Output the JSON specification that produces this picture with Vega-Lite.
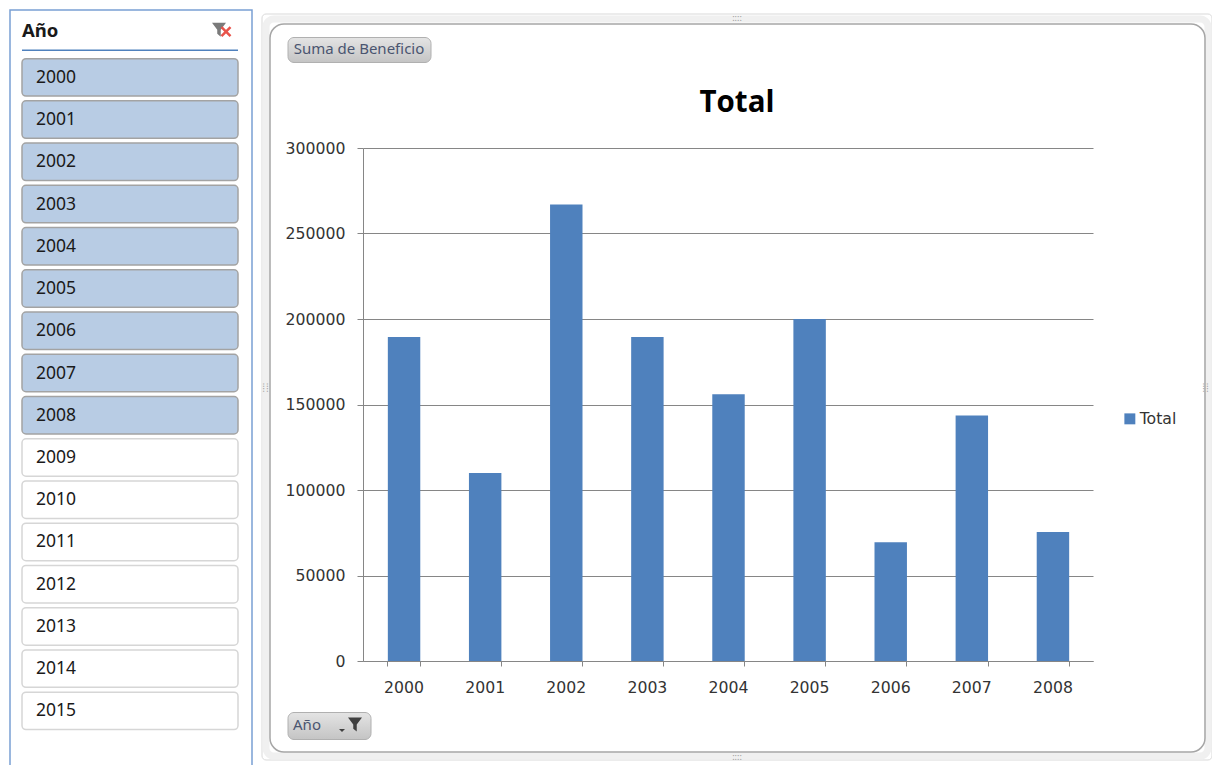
{
"$schema":"https://vega.github.io/schema/vega-lite/v6.json",
"padding":{"left":9,"top":9,"right":0,"bottom":0},
"background":"#ffffff",
"spacing":10,
"bounds":"flush",
"config":{"font":"Noto Sans"},
"datasets":{
"slicer":[{"year":"2000","sel":true},{"year":"2001","sel":true},{"year":"2002","sel":true},{"year":"2003","sel":true},{"year":"2004","sel":true},{"year":"2005","sel":true},{"year":"2006","sel":true},{"year":"2007","sel":true},{"year":"2008","sel":true},{"year":"2009","sel":false},{"year":"2010","sel":false},{"year":"2011","sel":false},{"year":"2012","sel":false},{"year":"2013","sel":false},{"year":"2014","sel":false},{"year":"2015","sel":false}],
"head":[{"year":"Año"}],
"profit":[{"year":"2000","beneficio":189500,"serie":"Total"},{"year":"2001","beneficio":110000,"serie":"Total"},{"year":"2002","beneficio":267000,"serie":"Total"},{"year":"2003","beneficio":189500,"serie":"Total"},{"year":"2004","beneficio":156000,"serie":"Total"},{"year":"2005","beneficio":200000,"serie":"Total"},{"year":"2006","beneficio":69500,"serie":"Total"},{"year":"2007","beneficio":143500,"serie":"Total"},{"year":"2008","beneficio":75500,"serie":"Total"}],
"b1":[{"label":"Suma de Beneficio"}],
"b2":[{"label":"Año"}],
"h":[{"label":"::::"}]
},
"hconcat":[
{
"width":242,"height":756,
"view":{"stroke":"#7aa0d4","strokeWidth":1.5,"fill":"#ffffff"},
"encoding":{"y":{"field":"year","type":"nominal","axis":null,"sort":null,"scale":{"domain":["Año","2000","2001","2002","2003","2004","2005","2006","2007","2008","2009","2010","2011","2012","2013","2014","2015"],"range":[6.4,719.6],"paddingInner":0.113,"paddingOuter":0}}},
"layer":[
{"data":{"name":"slicer"},"mark":{"type":"rect","width":216,"xOffset":-122,"cornerRadius":4,"strokeWidth":1.5},
"encoding":{"fill":{"condition":{"test":"datum.sel","value":"#b8cce4"},"value":"#ffffff"},"stroke":{"condition":{"test":"datum.sel","value":"#a3a3a3"},"value":"#d6d6d6"}}},
{"data":{"name":"slicer"},"mark":{"type":"text","align":"left","xOffset":-95,"yOffset":0.5,"fontSize":17.5,"color":"#1a1a1a"},"encoding":{"text":{"field":"year"}}},
{"data":{"name":"head"},"mark":{"type":"text","align":"left","xOffset":-109,"yOffset":-4,"fontSize":18.5,"fontWeight":"bold","color":"#1a1a1a"},"encoding":{"text":{"field":"year"}}},
{"data":{"name":"head"},"mark":{"type":"rect","width":216,"height":1.5,"xOffset":-122,"yOffset":15,"fill":"#4f81bd"}},
{"data":{"name":"head"},"mark":{"type":"point","shape":"M-1,-1L1,-1L0.25,0L0.25,1L-0.25,0.6L-0.25,0Z","size":196,"filled":true,"xOffset":88,"yOffset":-5.5,"color":"#7a7a7a","opacity":1}},
{"data":{"name":"head"},"mark":{"type":"point","shape":"M-1,-1L1,1M-1,1L1,-1","size":81,"filled":false,"xOffset":95,"yOffset":-3.5,"color":"#e8534a","strokeWidth":2.5,"opacity":1}}
]
},
{
"width":950,"height":755,
"view":{"stroke":null,"fill":"#ffffff"},
"title":{"text":"Total","anchor":"middle","frame":"group","baseline":"middle","offset":0,"dy":122,"fontSize":29.5,"fontWeight":"bold","font":"Open Sans","color":"#000000"},
"layer":[
{"data":{"name":"b1"},"mark":{"type":"rect","width":950,"height":746,"xOffset":-475,"yOffset":377,"cornerRadius":4,"fill":null,"stroke":"#d9d9d9","strokeWidth":1}},
{"data":{"name":"b1"},"mark":{"type":"rect","width":942,"height":737,"xOffset":-475,"yOffset":377.5,"cornerRadius":8,"fill":null,"stroke":"#f0f0f0","strokeWidth":7}},
{"data":{"name":"b1"},"mark":{"type":"rect","width":935,"height":728,"xOffset":-474.5,"yOffset":378,"cornerRadius":14,"fill":null,"stroke":"#a6a6a6","strokeWidth":1.5}},
{"data":{"name":"profit"},"mark":{"type":"bar","xOffset":0.5},
"encoding":{
"x":{"field":"year","type":"ordinal","title":null,"scale":{"range":[101,831],"paddingInner":0.6,"paddingOuter":0.3},"axis":{"offset":-104,"labelAngle":0,"labelFont":"DejaVu Sans","labelFontSize":15.7,"labelColor":"#333333","labelPadding":14,"tickSize":5,"tickColor":"#868686","domainColor":"#868686","tickBand":"extent","grid":false}},
"y":{"field":"beneficio","type":"quantitative","title":null,"scale":{"domain":[0,300000],"range":[651,138],"nice":false},"axis":{"offset":-101,"values":[0,50000,100000,150000,200000,250000,300000],"format":"d","labelFont":"DejaVu Sans","labelFontSize":15.7,"labelColor":"#333333","labelPadding":12,"tickSize":6,"tickColor":"#868686","domainColor":"#868686","gridColor":"#868686","grid":true}},
"color":{"field":"serie","type":"nominal","scale":{"range":["#4f81bd"]},"legend":{"orient":"none","legendX":1112,"legendY":401,"title":null,"symbolType":"square","symbolSize":120,"symbolStrokeWidth":0,"labelFont":"DejaVu Sans","labelFontSize":15.7,"labelColor":"#333333","labelOffset":2}}
}},
{"data":{"name":"b1"},"mark":{"type":"rect","width":143,"height":25,"xOffset":-852.5,"yOffset":40,"cornerRadius":6,"stroke":"#b0b0b0","fill":{"gradient":"linear","x1":0,"y1":0,"x2":0,"y2":1,"stops":[{"offset":0,"color":"#e4e4e4"},{"offset":1,"color":"#c4c4c4"}]}}},
{"data":{"name":"b1"},"mark":{"type":"text","xOffset":-378,"yOffset":-339,"fontSize":15,"color":"#4a5570"},"encoding":{"text":{"field":"label"}}},
{"data":{"name":"b2"},"mark":{"type":"rect","width":83,"height":27,"xOffset":-882.5,"yOffset":716,"cornerRadius":6,"stroke":"#b0b0b0","fill":{"gradient":"linear","x1":0,"y1":0,"x2":0,"y2":1,"stops":[{"offset":0,"color":"#e4e4e4"},{"offset":1,"color":"#c4c4c4"}]}}},
{"data":{"name":"b2"},"mark":{"type":"text","xOffset":-430,"yOffset":337.5,"fontSize":15,"color":"#4a5570"},"encoding":{"text":{"field":"label"}}},
{"data":{"name":"b2"},"mark":{"type":"point","shape":"M-1,-1L1,-1L0.25,0L0.25,1L-0.25,0.6L-0.25,0Z","size":196,"filled":true,"xOffset":-382,"yOffset":337,"color":"#404040","opacity":1}},
{"data":{"name":"b2"},"mark":{"type":"point","shape":"M-1,-0.5L1,-0.5L0,0.5Z","size":36,"filled":true,"xOffset":-395,"yOffset":343,"color":"#404040","opacity":1}},
{"data":{"name":"h"},"mark":{"type":"text","yOffset":-370,"fontSize":9,"color":"#9a9a9a"},"encoding":{"text":{"field":"label"}}},
{"data":{"name":"h"},"mark":{"type":"text","yOffset":369,"fontSize":9,"color":"#9a9a9a"},"encoding":{"text":{"field":"label"}}},
{"data":{"name":"h"},"mark":{"type":"text","xOffset":-471,"angle":90,"fontSize":9,"color":"#9a9a9a"},"encoding":{"text":{"field":"label"}}},
{"data":{"name":"h"},"mark":{"type":"text","xOffset":469,"angle":90,"fontSize":9,"color":"#9a9a9a"},"encoding":{"text":{"field":"label"}}}
]
}
]
}
